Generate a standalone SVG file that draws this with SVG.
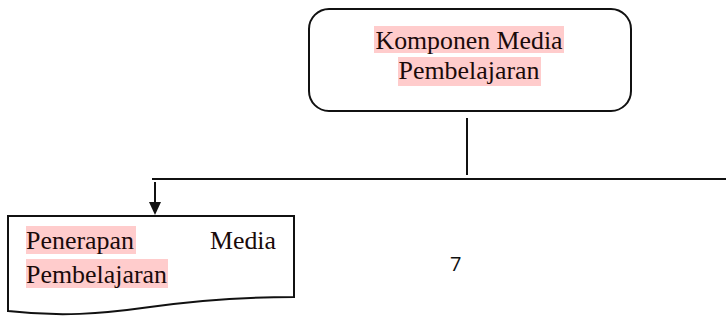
<svg xmlns="http://www.w3.org/2000/svg" width="726" height="329" viewBox="0 0 726 329">
<style>
.t{font-family:"Liberation Serif","Times New Roman",serif;font-size:25px;fill:#1a0a0a}
.hl{fill:#ffcccc}
.ln{stroke:#111;stroke-width:2;fill:none}
.s{font-family:"Open Sans","Liberation Sans",sans-serif;font-size:20px;fill:#111}
</style>
<g id="node-komponen">
<rect x="309" y="9" width="322" height="102" rx="20" ry="20" class="ln"/>
<rect x="374" y="26" width="190" height="27" class="hl"/>
<rect x="398" y="57" width="143" height="29" class="hl"/>
<text x="469" y="49" text-anchor="middle" class="t" textLength="187" lengthAdjust="spacingAndGlyphs">Komponen Media</text>
<text x="469" y="79" text-anchor="middle" class="t" textLength="141" lengthAdjust="spacingAndGlyphs">Pembelajaran</text>
</g>
<g id="node-penerapan">
<path d="M8,216 L294,216 L294,297 C240,297 200,300 150,307 C100,314 60,317 8,311 Z" class="ln"/>
<rect x="26" y="226" width="110" height="28" class="hl"/>
<rect x="26" y="259" width="142" height="29" class="hl"/>
<text x="26" y="249" class="t" textLength="108" lengthAdjust="spacingAndGlyphs">Penerapan</text>
<text x="276" y="249" text-anchor="end" class="t" textLength="66" lengthAdjust="spacingAndGlyphs">Media</text>
<text x="26" y="283" class="t" textLength="141" lengthAdjust="spacingAndGlyphs">Pembelajaran</text>
</g>
<g id="connectors">
<line x1="467" y1="118" x2="467" y2="175" class="ln"/>
<line x1="152" y1="179" x2="726" y2="179" class="ln"/>
<line x1="155" y1="182" x2="155" y2="204" class="ln"/>
<path d="M149,202 L161,202 L155,215 Z" fill="#111"/>
</g>
<text x="450" y="271" class="s">7</text>
</svg>
